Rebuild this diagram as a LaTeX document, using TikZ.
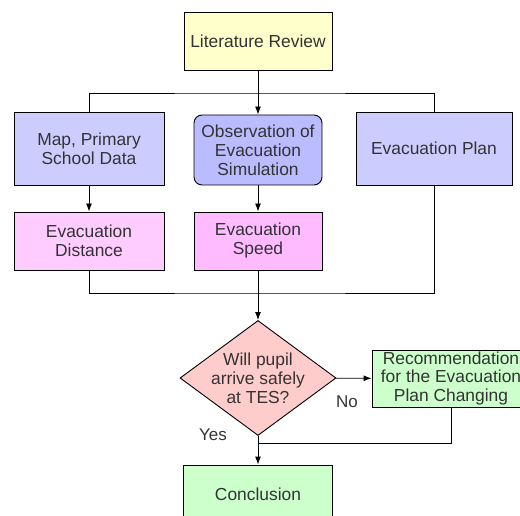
\documentclass[tikz,border=0pt]{standalone}
\usepackage{fontspec}
\setmainfont{Liberation Sans}
\usetikzlibrary{shapes.geometric,arrows.meta}
\definecolor{litfill}{HTML}{FFFFCC}
\definecolor{datafill}{HTML}{CCCCFF}
\definecolor{obsfill}{HTML}{BBBBFF}
\definecolor{distfill}{HTML}{FFCCFF}
\definecolor{speedfill}{HTML}{FFBBFF}
\definecolor{askfill}{HTML}{FFCCCC}
\definecolor{endfill}{HTML}{CCFFCC}

\begin{document}
\begin{tikzpicture}[x=1pt,y=-1pt,>={Latex[length=8pt,width=6pt]},line width=0.9pt]
  \tikzstyle{box}=[draw,rectangle,align=center,inner sep=0pt,font=\fontsize{17.4}{19}\selectfont,text=black!80]
  \tikzstyle{lbl}=[font=\fontsize{17}{19}\selectfont,text=black!80]
  \useasboundingbox (0,0) rectangle (520,516);

  \node[box,fill=litfill,minimum width=148pt,minimum height=58pt] (lit) at (258,41) {Literature Review};

  \node[box,fill=datafill,minimum width=150pt,minimum height=73pt] (map) at (89,148.5) {Map, Primary\\School Data};
  \node[box,fill=obsfill,rounded corners=8pt,minimum width=128pt,minimum height=70pt] (obs) at (258,150) {Observation of\\Evacuation\\Simulation};
  \node[box,fill=datafill,minimum width=156pt,minimum height=73pt] (plan) at (434,148.5) {Evacuation Plan};

  \node[box,fill=distfill,minimum width=150pt,minimum height=58pt] (dist) at (89,241) {Evacuation\\Distance};
  \node[box,fill=speedfill,minimum width=128pt,minimum height=58pt] (speed) at (258,241) {Evacuation\\Speed};

  \node[box,diamond,aspect=1.36,fill=askfill,inner sep=-5pt,minimum width=156pt,minimum height=115pt] (ask) at (258,378) {Will pupil\\arrive safely\\at TES?};
  \node[box,fill=endfill,minimum width=158pt,minimum height=57pt] (rec) at (451,378.5) {Recommendation\\for the Evacuation\\Plan Changing};
  \node[box,fill=endfill,minimum width=149pt,minimum height=58pt] (concl) at (258,494) {Conclusion};

  \coordinate (split) at (258,93);
  \coordinate (join) at (258,293);
  \coordinate (back) at (258,443);

  % top branches
  \draw[->] (lit) -- (obs);
  \draw (map.north) |- (split) -| (plan.north);
  \draw[->] (map) -- (dist);
  \draw[->] (obs) -- (speed);

  % merge into the question
  \draw (dist.south) |- (join) -| (plan.south);
  \draw[->] (speed) -- (ask);
  \draw[->] (ask) -- (rec);
  \draw (rec.south) |- (back);
  \draw[->] (ask) -- (concl);

  \node[lbl] (no) at (347,402) {No};
  \node[lbl] (yes) at (213,435) {Yes};
\end{tikzpicture}
\end{document}
